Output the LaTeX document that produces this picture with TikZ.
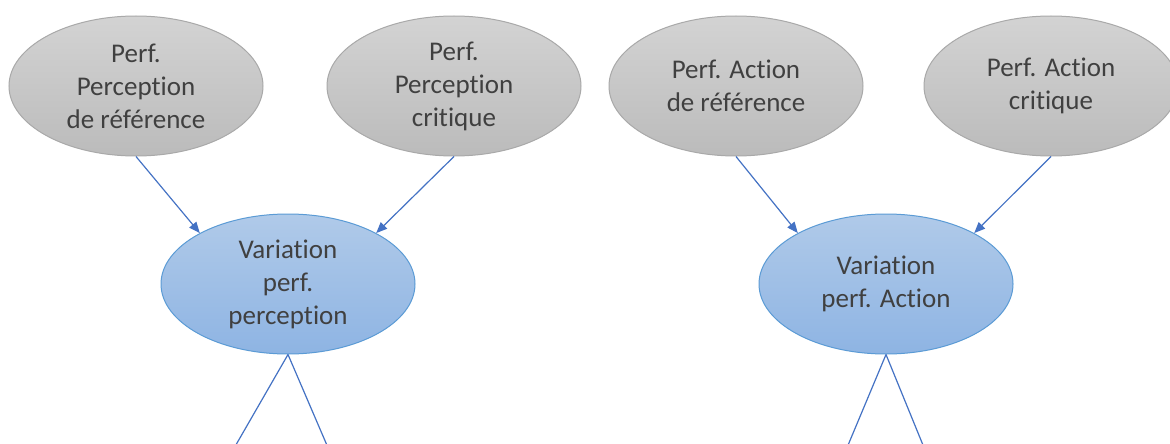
\documentclass[tikz,border=0pt]{standalone}
\usepackage{fontspec}
\setmainfont{Carlito}[Ligatures={NoCommon,NoContextual}]
\usetikzlibrary{shapes.geometric,arrows.meta}
\newcommand\tibreak{\kern0pt}
\definecolor{txt}{HTML}{404040}
\definecolor{greytop}{HTML}{D3D3D3}
\definecolor{greybot}{HTML}{BBBBBB}
\definecolor{greyline}{HTML}{A9A9A9}
\definecolor{bluetop}{HTML}{B0CAE9}
\definecolor{bluebot}{HTML}{8EB4E3}
\definecolor{blueline}{HTML}{5B9BD5}
\definecolor{arrowc}{HTML}{4472C4}
\tikzset{
  ell/.style={ellipse, minimum width=254pt, minimum height=140pt, inner sep=0pt,
    align=center, text=txt, font=\fontsize{27pt}{33pt}\selectfont, line width=1pt},
  greyell/.style={ell, draw=greyline, top color=greytop, bottom color=greybot},
  blueell/.style={ell, draw=blueline, top color=bluetop, bottom color=bluebot},
  conn/.style={draw=arrowc, line width=1.2pt},
  arr/.style={conn, -{Triangle[length=11pt,width=9pt]}}
}
\begin{document}
\begin{tikzpicture}[x=1pt,y=-1pt]
\useasboundingbox (0,0) rectangle (1170,444);
\clip (0,0) rectangle (1170,444);
\fill[white] (0,0) rectangle (1170,444);
\node[greyell] (pr) at (136,86) {Perf.\\Percept\tibreak ion\\de référence};
\node[greyell] (pc) at (454,86) {Perf.\\Percept\tibreak ion\\critique};
\node[blueell] (vp) at (288,284) {Variat\tibreak ion\\perf.\\percept\tibreak ion};
\node[greyell] (ar) at (736,86) {Perf. Act\tibreak ion\\de référence};
\node[greyell] (ac) at (1051,86) {Perf. Act\tibreak ion\\critique};
\node[blueell] (va) at (886,284) {Variat\tibreak ion\\perf. Act\tibreak ion};
\coordinate (p1) at (233,450);
\coordinate (p2) at (329,450);
\coordinate (a1) at (846,450);
\coordinate (a2) at (925,450);
\draw[arr] (pr.south) -- (vp.150);
\draw[arr] (pc.south) -- (vp.30);
\draw[arr] (ar.south) -- (va.150);
\draw[arr] (ac.south) -- (va.30);
\draw[conn] (vp.south) -- (p1);
\draw[conn] (vp.south) -- (p2);
\draw[conn] (va.south) -- (a1);
\draw[conn] (va.south) -- (a2);
\end{tikzpicture}
\end{document}
